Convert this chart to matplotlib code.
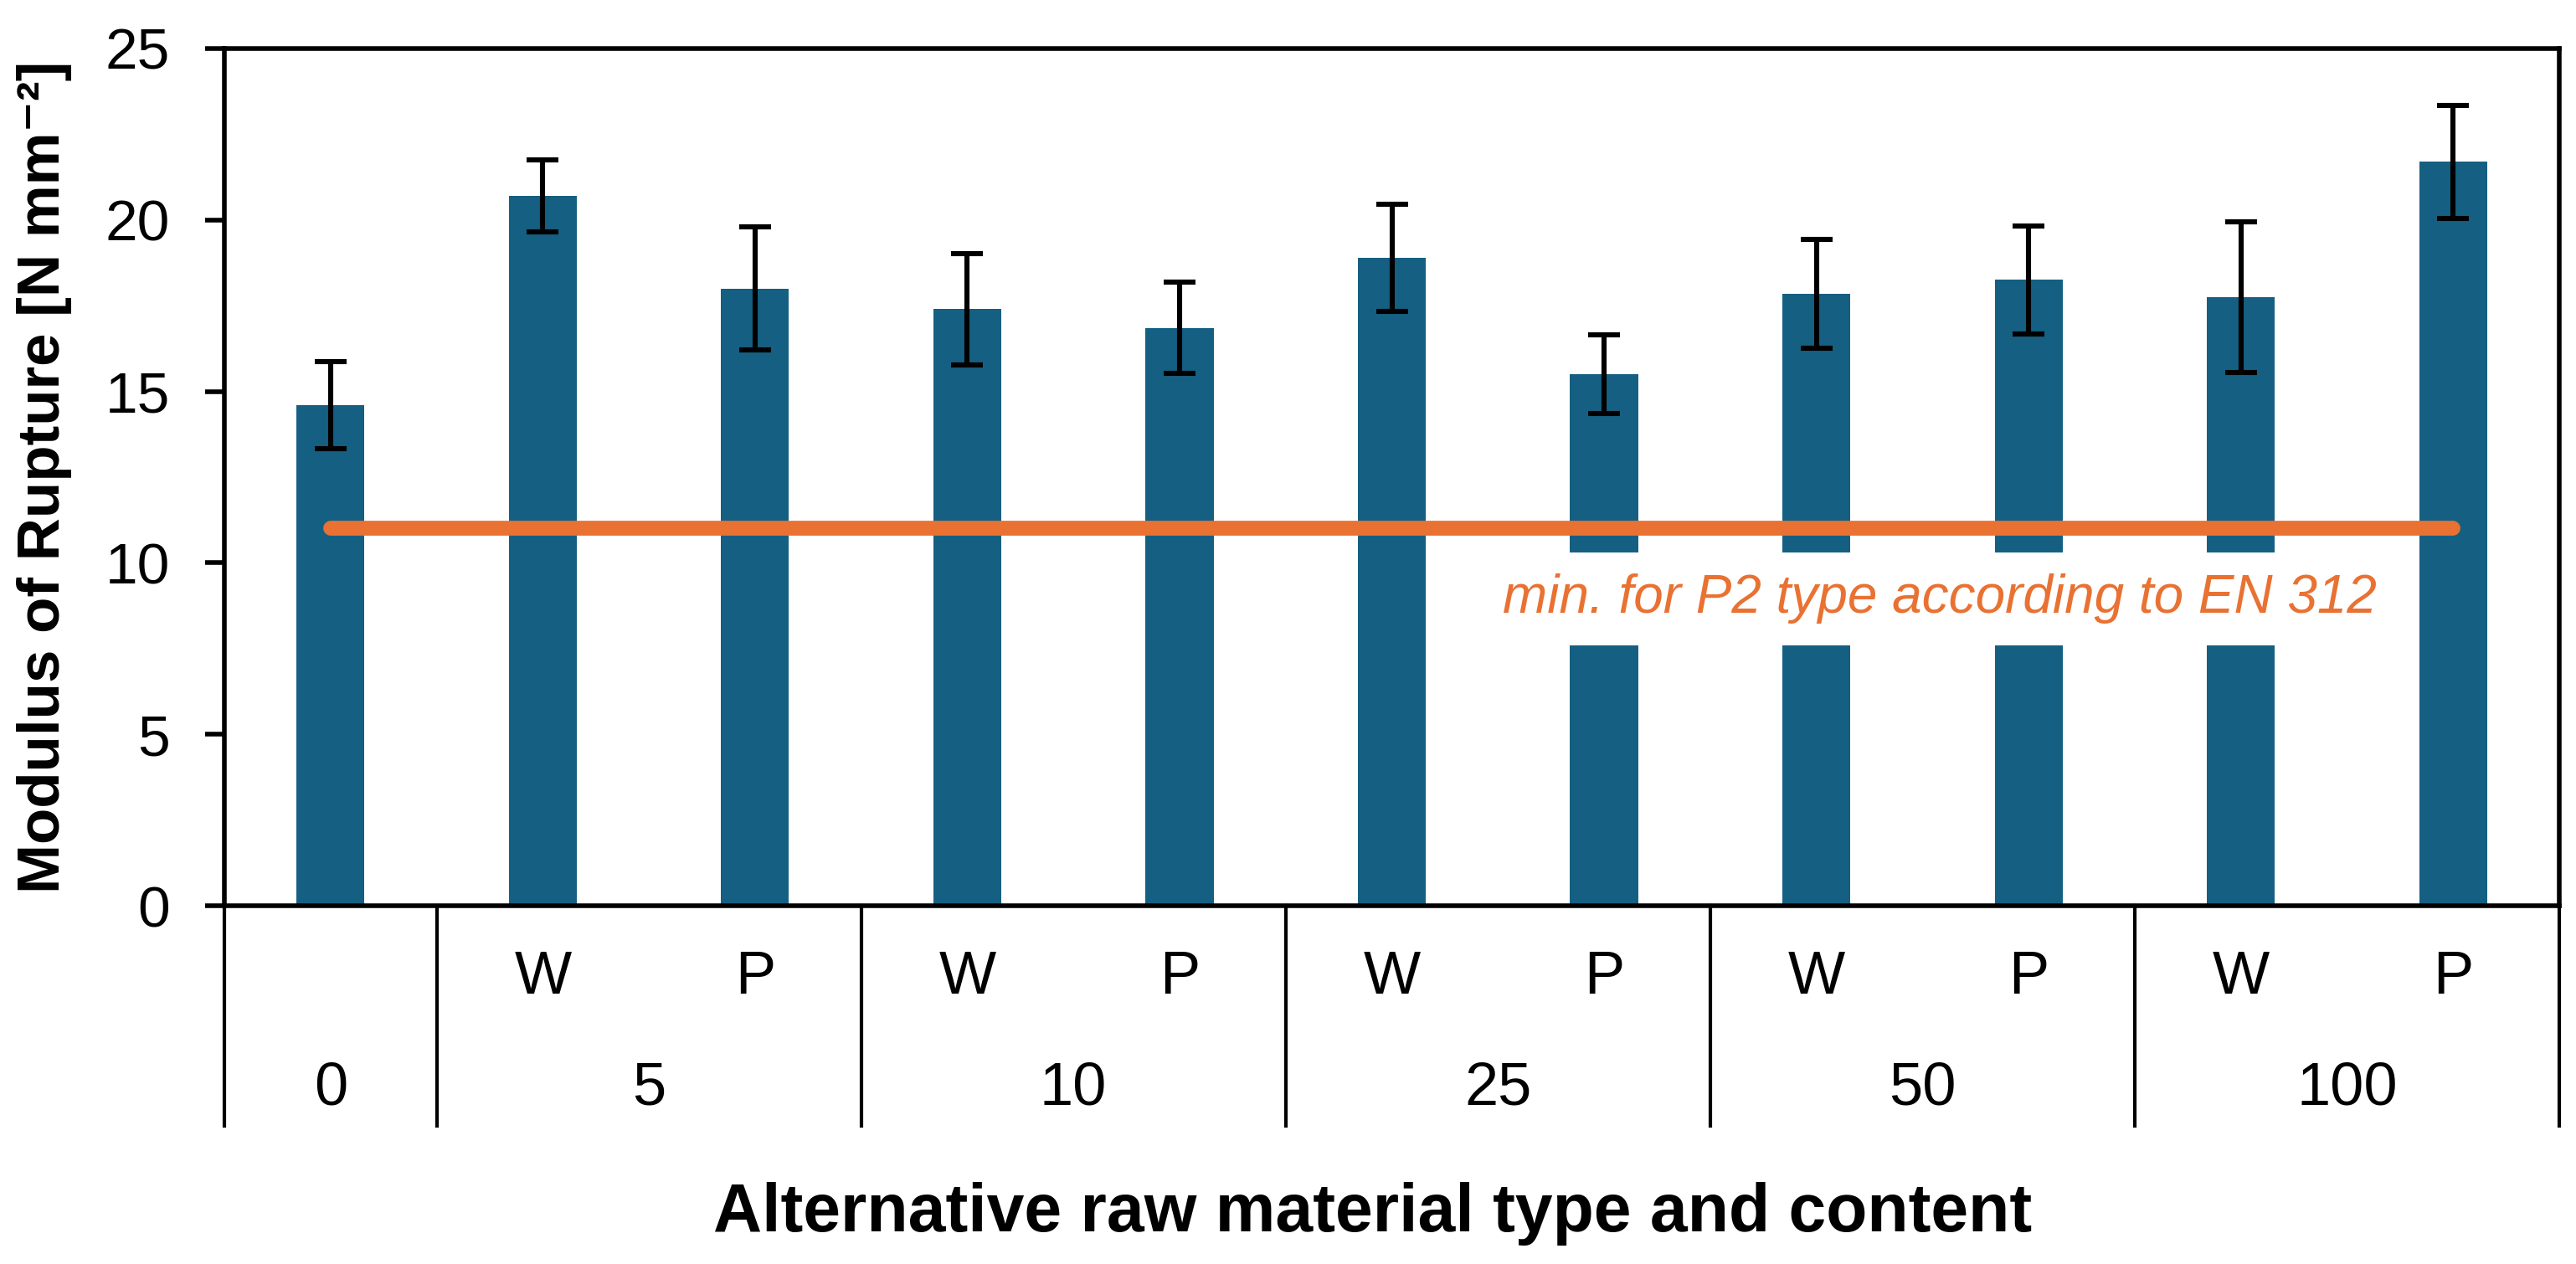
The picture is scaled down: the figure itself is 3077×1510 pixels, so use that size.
import numpy as np
import matplotlib
matplotlib.use("Agg")
import matplotlib.pyplot as plt
from matplotlib.transforms import blended_transform_factory

plt.rcParams['font.family'] = ['Liberation Sans', 'DejaVu Sans']

# Data
types = ['', 'W', 'P', 'W', 'P', 'W', 'P', 'W', 'P', 'W', 'P']
groups = ['0', '5', '10', '25', '50', '100']
group_sizes = [1, 2, 2, 2, 2, 2]
mor = [14.6, 20.7, 18.0, 17.4, 16.85, 18.9, 15.5, 17.85, 18.25, 17.75, 21.7]
mor_err = [1.28, 1.05, 1.8, 1.62, 1.33, 1.57, 1.15, 1.58, 1.57, 2.19, 1.65]
en312_min = 11
note = 'min. for P2 type according to EN 312'

blue = '#156082'
orange = '#E97132'

fig = plt.figure(figsize=(3077 / 200, 1510 / 200), dpi=200)
ax = fig.add_axes([0.0871, 0.2834, 0.9064, 0.6782])

x = np.arange(len(mor))

# Bars with error bars
ax.bar(x, mor, width=0.32, color=blue, zorder=2)
ax.errorbar(x, mor, yerr=mor_err, fmt='none', ecolor='black',
            elinewidth=2.2, capsize=7, capthick=2.2, zorder=3)

# Minimum requirement line
ax.plot([x[0], x[-1]], [en312_min, en312_min], color=orange, lw=6.4,
        solid_capstyle='round', zorder=4)
ax.text(9.64, 8.95, note, ha='right', va='center', style='italic',
        color=orange, fontsize=23, zorder=3,
        bbox=dict(facecolor='white', edgecolor='none', boxstyle='square,pad=0.4'))

# Axes setup
ax.set_xlim(-0.5, len(mor) - 0.5)
ax.set_ylim(0, 25)
ax.set_yticks(np.arange(0, 26, 5))
ax.set_xticks([])
ax.tick_params(axis='y', direction='out', length=8.3, width=2, labelsize=25, pad=15)
for side in ['left', 'right', 'top', 'bottom']:
    ax.spines[side].set_linewidth(2)

# Two level category axis below the plot
trans = blended_transform_factory(ax.transData, ax.transAxes)
edges = np.concatenate([[0], np.cumsum(group_sizes)]) - 0.5
for e in edges:
    ax.plot([e, e], [0, -0.257], transform=trans, color='black', lw=1.5,
            clip_on=False)
for i, t in enumerate(types):
    ax.text(x[i], -0.084, t, transform=trans, ha='center', va='center', fontsize=26)
for g, a, b in zip(groups, edges[:-1], edges[1:]):
    ax.text((a + b) / 2, -0.214, g, transform=trans, ha='center', va='center',
            fontsize=26)

# Axis titles
fig.text(0.0172, 0.6225, 'Modulus of Rupture [N mm⁻²]', rotation=90,
         ha='center', va='center', fontsize=25.5, weight='bold')
fig.text(0.533, 0.0397, 'Alternative raw material type and content',
         ha='center', va='center', fontsize=29, weight='bold')

fig.savefig('out.png', dpi=200)
